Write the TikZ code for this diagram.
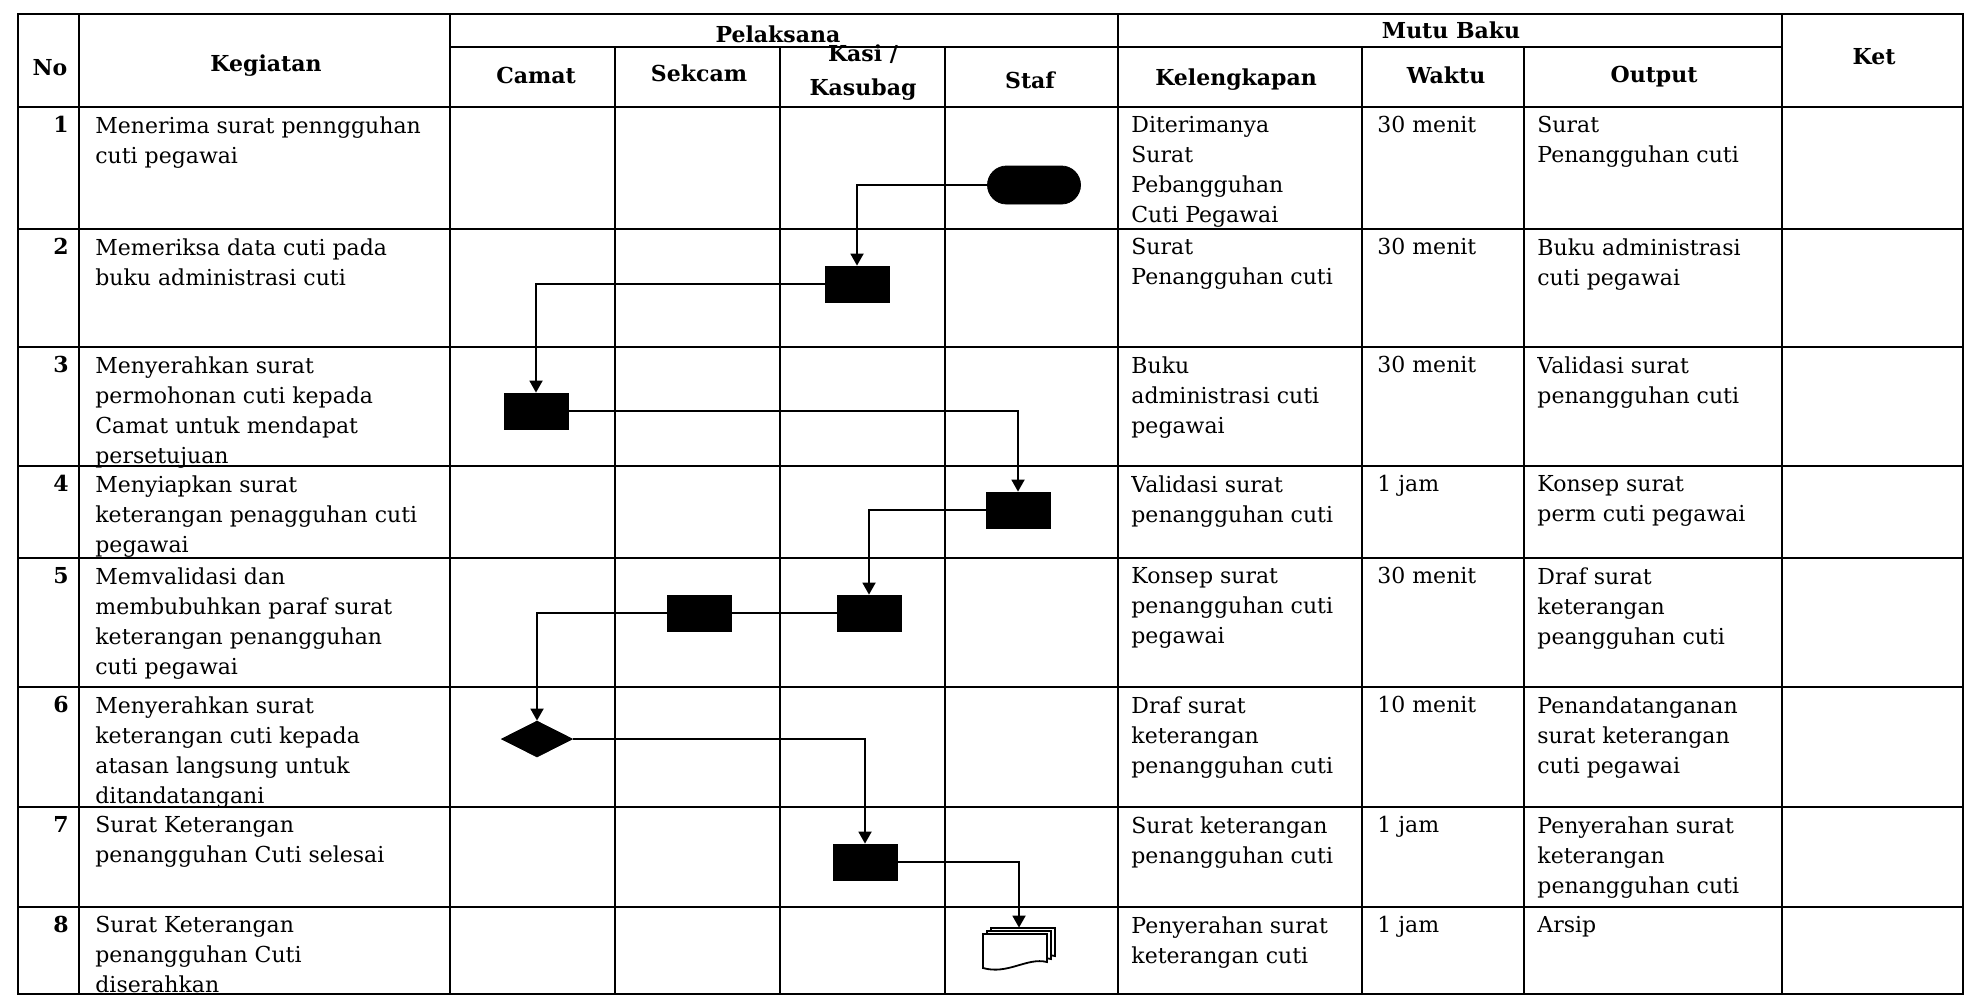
\documentclass[tikz,border=0pt]{standalone}
\usepackage{fontspec}
\setmainfont{DejaVu Serif}
\usetikzlibrary{arrows.meta,shapes.geometric}

\begin{document}
\begin{tikzpicture}[x=0.5pt,y=-0.5pt,>={Triangle[length=6pt,width=6.5pt]},
		grid/.style={line width=1pt},
		link/.style={->,line width=0.9pt},
		cell/.style={anchor=north west,align=left,inner sep=0pt,font=\fontsize{11}{15}\selectfont},
		num/.style={anchor=north east,inner sep=0pt,font=\fontsize{11}{15}\selectfont\bfseries},
		head/.style={align=center,inner sep=0pt,font=\fontsize{11}{15}\selectfont\bfseries},
		proc/.style={draw,fill=black,inner sep=0pt,minimum width=32pt,minimum height=18pt}]
		\fill[white] (0,0) rectangle (1968,1003);
		\draw[grid] (18,14) rectangle (1963,994);
		\foreach \y in {107,229,347,466,558,687,807,907}
			\draw[grid] (18,\y) -- (1963,\y);
		\draw[grid] (450,47) -- (1782,47);
		\foreach \x in {79,450,1118,1782}
			\draw[grid] (\x,14) -- (\x,994);
		\foreach \x in {615,780,945,1362,1524}
			\draw[grid] (\x,47) -- (\x,994);
		\node[head] (hno) at (50,68) {No};
		\node[head] (hkeg) at (266,66) {Kegiatan};
		\node[head] (hpel) at (778,34) {Pelaksana};
		\node[head] (hmutu) at (1451,30) {Mutu Baku};
		\node[head] (hket) at (1874,57) {Ket};
		\node[head] (hcamat) at (536,75) {Camat};
		\node[head] (hsek) at (699,73) {Sekcam};
		\node[head] (hkasi) at (863,73) {Kasi /\\[2pt]Kasubag};
		\node[head] (hstaf) at (1030,80) {Staf};
		\node[head] (hkel) at (1236,80) {Kelengkapan};
		\node[head] (hwak) at (1446,75) {Waktu};
		\node[head] (hout) at (1654,77) {Output};
		\node[num] (n1) at (69,116) {1};
		\node[num] (n2) at (69,238) {2};
		\node[num] (n3) at (69,356) {3};
		\node[num] (n4) at (69,475) {4};
		\node[num] (n5) at (69,567) {5};
		\node[num] (n6) at (69,696) {6};
		\node[num] (n7) at (69,816) {7};
		\node[num] (n8) at (69,916) {8};
		\node[cell] (k1) at (95,116) {Menerima surat penngguhan\\cuti pegawai};
		\node[cell] (k2) at (95,238) {Memeriksa data cuti pada\\buku administrasi cuti};
		\node[cell] (k3) at (95,356) {Menyerahkan surat\\permohonan cuti kepada\\Camat untuk mendapat\\persetujuan};
		\node[cell] (k4) at (95,475) {Menyiapkan surat\\keterangan penagguhan cuti\\pegawai};
		\node[cell] (k5) at (95,567) {Memvalidasi dan\\membubuhkan paraf surat\\keterangan penangguhan\\cuti pegawai};
		\node[cell] (k6) at (95,696) {Menyerahkan surat\\keterangan cuti kepada\\atasan langsung untuk\\ditandatangani};
		\node[cell] (k7) at (95,816) {Surat Keterangan\\penangguhan Cuti selesai};
		\node[cell] (k8) at (95,916) {Surat Keterangan\\penangguhan Cuti\\diserahkan};
		\node[cell] (l1) at (1131,116) {Diterimanya\\Surat\\Pebangguhan\\Cuti Pegawai};
		\node[cell] (l2) at (1131,238) {Surat\\Penangguhan cuti};
		\node[cell] (l3) at (1131,356) {Buku\\administrasi cuti\\pegawai};
		\node[cell] (l4) at (1131,475) {Validasi surat\\penangguhan cuti};
		\node[cell] (l5) at (1131,567) {Konsep surat\\penangguhan cuti\\pegawai};
		\node[cell] (l6) at (1131,696) {Draf surat\\keterangan\\penangguhan cuti};
		\node[cell] (l7) at (1131,816) {Surat keterangan\\penangguhan cuti};
		\node[cell] (l8) at (1131,916) {Penyerahan surat\\keterangan cuti};
		\node[cell] (w1) at (1377,116) {30 menit};
		\node[cell] (w2) at (1377,238) {30 menit};
		\node[cell] (w3) at (1377,356) {30 menit};
		\node[cell] (w4) at (1377,475) {1 jam};
		\node[cell] (w5) at (1377,567) {30 menit};
		\node[cell] (w6) at (1377,696) {10 menit};
		\node[cell] (w7) at (1377,816) {1 jam};
		\node[cell] (w8) at (1377,916) {1 jam};
		\node[cell] (o1) at (1537,116) {Surat\\Penangguhan cuti};
		\node[cell] (o2) at (1537,238) {Buku administrasi\\cuti pegawai};
		\node[cell] (o3) at (1537,356) {Validasi surat\\penangguhan cuti};
		\node[cell] (o4) at (1537,475) {Konsep surat\\perm cuti pegawai};
		\node[cell] (o5) at (1537,567) {Draf surat\\keterangan\\peangguhan cuti};
		\node[cell] (o6) at (1537,696) {Penandatanganan\\surat keterangan\\cuti pegawai};
		\node[cell] (o7) at (1537,816) {Penyerahan surat\\keterangan\\penangguhan cuti};
		\node[cell] (o8) at (1537,916) {Arsip};
		\node[proc,rounded corners=9.5pt,minimum width=46.5pt,minimum height=19pt] (start) at (1034,185) {};
		\node[proc] (p2) at (857,284) {};
		\node[proc] (p3) at (536,411) {};
		\node[proc] (p4) at (1018,510) {};
		\node[proc] (p5a) at (699,613) {};
		\node[proc] (p5b) at (869,613) {};
		\node[draw,fill=black,diamond,inner sep=0pt,minimum width=35.5pt,minimum height=18pt] (dec) at (537,739) {};
		\node[proc] (p7) at (865,862) {};
		\node[inner sep=0pt,minimum width=36pt,minimum height=21pt] (arsip) at (1019,949) {};
		\foreach \d in {8,4,0}
			\draw[line width=0.9pt,fill=white,shift={(\d,-0.75*\d)}] (983,934) -- (1047,934) -- (1047,962) .. controls (1027,957) and (1008,975) .. (983,968) -- cycle;
		\draw[link] (start.west) -| (p2.north);
		\draw[link] (p2.west) -| (p3.north);
		\draw[link] (p3.east) -| (p4.north);
		\draw[link] (p4.west) -| (p5b.north);
		\draw[line width=0.9pt] (p5b.west) -- (p5a.east);
		\draw[link] (p5a.west) -| (dec.north);
		\draw[link] (dec.east) -| (p7.north);
		\draw[link] (p7.east) -| (arsip.north);
	\end{tikzpicture}
\end{document}
